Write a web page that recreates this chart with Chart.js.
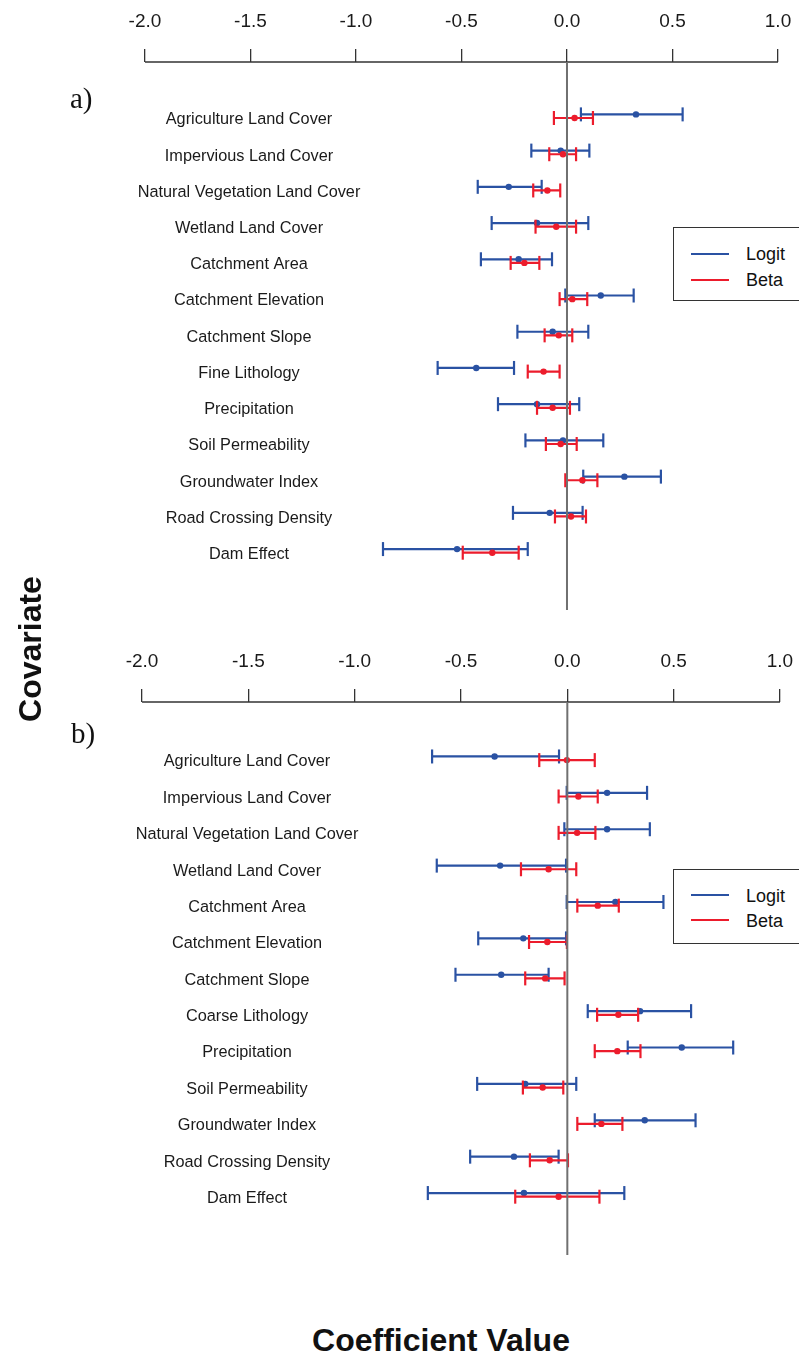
<!DOCTYPE html>
<html>
<head>
<meta charset="utf-8">
<script src="https://cdn.jsdelivr.net/npm/chart.js@4.4.1/dist/chart.umd.min.js"></script>
<style>
  html, body { margin: 0; padding: 0; background: #fff; }
  body { width: 799px; height: 1356px; position: relative; overflow: hidden; font-family: "Liberation Sans", Arial, sans-serif; }
  canvas { position: absolute; left: 0; }
  .panel { position: absolute; font-family: "Liberation Serif", "Times New Roman", serif; font-size: 29px; color: #111; line-height: 1; }
  .legend { position: absolute; border: 1.5px solid #333; background: #fff; width: 140px; }
  .legend .ln { position: absolute; height: 2px; width: 38px; left: 17px; }
  .legend .tx { position: absolute; left: 72px; font-size: 18px; color: #111; line-height: 1; }
  .title { position: absolute; font-weight: bold; font-size: 32px; color: #111; white-space: nowrap; }
</style>
</head>
<body>
<canvas id="chartA" width="799" height="640" style="top:0px"></canvas>
<canvas id="chartB" width="799" height="640" style="top:640px"></canvas>

<div class="panel" style="left:70px; top:84px;">a)</div>
<div class="panel" style="left:71px; top:719px;">b)</div>

<div class="legend" style="left:673px; top:227px; height:72px;">
  <div class="ln" style="top:25px; background:#2a52a3;"></div>
  <div class="tx" style="top:17px;">Logit</div>
  <div class="ln" style="top:51px; background:#ec1c2c;"></div>
  <div class="tx" style="top:43px;">Beta</div>
</div>
<div class="legend" style="left:673px; top:869px; height:73px;">
  <div class="ln" style="top:24px; background:#2a52a3;"></div>
  <div class="tx" style="top:17px;">Logit</div>
  <div class="ln" style="top:49px; background:#ec1c2c;"></div>
  <div class="tx" style="top:42px;">Beta</div>
</div>

<div class="title" style="left:30px; top:649px; transform: translate(-50%, -50%) rotate(-90deg);">Covariate</div>
<div class="title" style="left:441px; top:1340px; transform: translate(-50%, -50%);">Coefficient Value</div>

<script>
// ---------- Data ----------
const tickValues = [-2.0, -1.5, -1.0, -0.5, 0.0, 0.5, 1.0];

const covariatesA = ["Agriculture Land Cover", "Impervious Land Cover", "Natural Vegetation Land Cover",
  "Wetland Land Cover", "Catchment Area", "Catchment Elevation", "Catchment Slope", "Fine Lithology",
  "Precipitation", "Soil Permeability", "Groundwater Index", "Road Crossing Density", "Dam Effect"];
const logitEstA = [0.327, -0.030, -0.276, -0.142, -0.229, 0.160, -0.068, -0.430, -0.142, -0.019, 0.272, -0.082, -0.521];
const logitLoA  = [0.066, -0.169, -0.423, -0.357, -0.408, -0.008, -0.235, -0.613, -0.327, -0.197, 0.077, -0.256, -0.872];
const logitHiA  = [0.548, 0.106, -0.120, 0.101, -0.071, 0.316, 0.101, -0.251, 0.058, 0.172, 0.445, 0.074, -0.186];
const betaEstA  = [0.036, -0.019, -0.093, -0.051, -0.202, 0.025, -0.039, -0.111, -0.068, -0.030, 0.073, 0.019, -0.354];
const betaLoA   = [-0.062, -0.084, -0.160, -0.149, -0.267, -0.035, -0.106, -0.186, -0.142, -0.100, -0.008, -0.057, -0.494];
const betaHiA   = [0.123, 0.043, -0.032, 0.043, -0.131, 0.096, 0.025, -0.035, 0.014, 0.046, 0.144, 0.090, -0.229];

const covariatesB = ["Agriculture Land Cover", "Impervious Land Cover", "Natural Vegetation Land Cover",
  "Wetland Land Cover", "Catchment Area", "Catchment Elevation", "Catchment Slope", "Coarse Lithology",
  "Precipitation", "Soil Permeability", "Groundwater Index", "Road Crossing Density", "Dam Effect"];
const logitEstB = [-0.342, 0.187, 0.187, -0.316, 0.226, -0.207, -0.311, 0.342, 0.538, -0.198, 0.364, -0.251, -0.204];
const logitLoB  = [-0.636, -0.003, -0.014, -0.614, -0.003, -0.419, -0.526, 0.096, 0.284, -0.424, 0.129, -0.457, -0.656];
const logitHiB  = [-0.039, 0.375, 0.388, -0.006, 0.452, -0.006, -0.088, 0.582, 0.780, 0.042, 0.603, -0.041, 0.268];
const betaEstB  = [-0.002, 0.052, 0.046, -0.088, 0.143, -0.094, -0.104, 0.240, 0.235, -0.116, 0.160, -0.083, -0.041];
const betaLoB   = [-0.132, -0.041, -0.041, -0.218, 0.047, -0.180, -0.198, 0.140, 0.129, -0.209, 0.047, -0.176, -0.245];
const betaHiB   = [0.129, 0.143, 0.132, 0.042, 0.242, -0.002, -0.013, 0.333, 0.344, -0.019, 0.259, 0.003, 0.151];

// ---------- Styling ----------
const BLUE = "#2a52a3";
const RED = "#ec1c2c";
const ZERO = "#707070";

const labelPlugin = {
  id: "covLabels",
  afterDraw(chart, args, opts) {
    const { ctx } = chart;
    const ys = chart.scales.y;
    ctx.save();
    ctx.font = '16.3px "Liberation Sans", Arial, sans-serif';
    ctx.fillStyle = "#1a1a1a";
    ctx.textAlign = "center";
    ctx.textBaseline = "middle";
    opts.labels.forEach((l, i) => ctx.fillText(l, opts.cx, ys.getPixelForValue(i + 0.1)));
    ctx.restore();
  }
};

function seriesSets(lo, est, hi, off, color) {
  const whisk = [], caps = [], pts = [];
  lo.forEach((_, i) => {
    whisk.push({ x: lo[i], y: i + off }, { x: hi[i], y: i + off }, { x: null, y: null });
    caps.push({ x: lo[i], y: i + off }, { x: hi[i], y: i + off });
    pts.push({ x: est[i], y: i + off });
  });
  return [
    { data: pts, showLine: false, pointStyle: "circle", pointRadius: 3.2, backgroundColor: color, borderWidth: 0 },
    { data: caps, showLine: false, pointStyle: "line", rotation: 90, pointRadius: 7, borderColor: color, borderWidth: 2.2 },
    { data: whisk, showLine: true, spanGaps: false, pointRadius: 0, borderColor: color, borderWidth: 2.2 }
  ];
}

function makeChart(id, cov, lE, lL, lH, bE, bL, bH, xr, yr, zeroEnd, cx) {
  const datasets = [
    { data: [{ x: 0, y: yr[0] }, { x: 0, y: zeroEnd }], showLine: true, pointRadius: 0, borderColor: ZERO, borderWidth: 2, clip: false },
    { data: [{ x: tickValues[0], y: yr[0] }, { x: tickValues[tickValues.length - 1], y: yr[0] }], showLine: true, pointRadius: 0, borderColor: "#333", borderWidth: 1.3, clip: false },
    ...seriesSets(bL, bE, bH, 0.05, RED),
    ...seriesSets(lL, lE, lH, -0.05, BLUE)
  ];
  return new Chart(document.getElementById(id), {
    type: "scatter",
    data: { datasets },
    plugins: [labelPlugin],
    options: {
      responsive: false,
      animation: false,
      events: [],
      devicePixelRatio: 1,
      layout: { padding: 0, autoPadding: false },
      plugins: { legend: { display: false }, tooltip: { enabled: false }, covLabels: { labels: cov, cx } },
      scales: {
        x: {
          type: "linear", position: "top", min: xr[0], max: xr[1],
          afterBuildTicks: s => { s.ticks = tickValues.map(v => ({ value: v })); },
          afterFit: s => { s.height = 62; s.paddingLeft = 0; s.paddingRight = 0; },
          ticks: {
            callback: v => Number(v).toFixed(1),
            font: { family: '"Liberation Sans", Arial, sans-serif', size: 19 },
            color: "#1a1a1a", padding: 16, maxRotation: 0, autoSkip: false
          },
          grid: { drawOnChartArea: false, drawTicks: true, tickLength: 13, color: "#333", lineWidth: 1.3 },
          border: { display: false }
        },
        y: { type: "linear", display: false, reverse: true, min: yr[0], max: yr[1] }
      }
    }
  });
}

makeChart("chartA", covariatesA, logitEstA, logitLoA, logitHiA, betaEstA, betaLoA, betaHiA,
  [-2.687, 1.0995], [-1.496, 14.46], 13.63, 249);
makeChart("chartB", covariatesB, logitEstB, logitLoB, logitHiB, betaEstB, betaLoB, betaHiB,
  [-2.668, 1.0895], [-1.547, 14.34], 13.65, 247);
</script>
</body>
</html>
